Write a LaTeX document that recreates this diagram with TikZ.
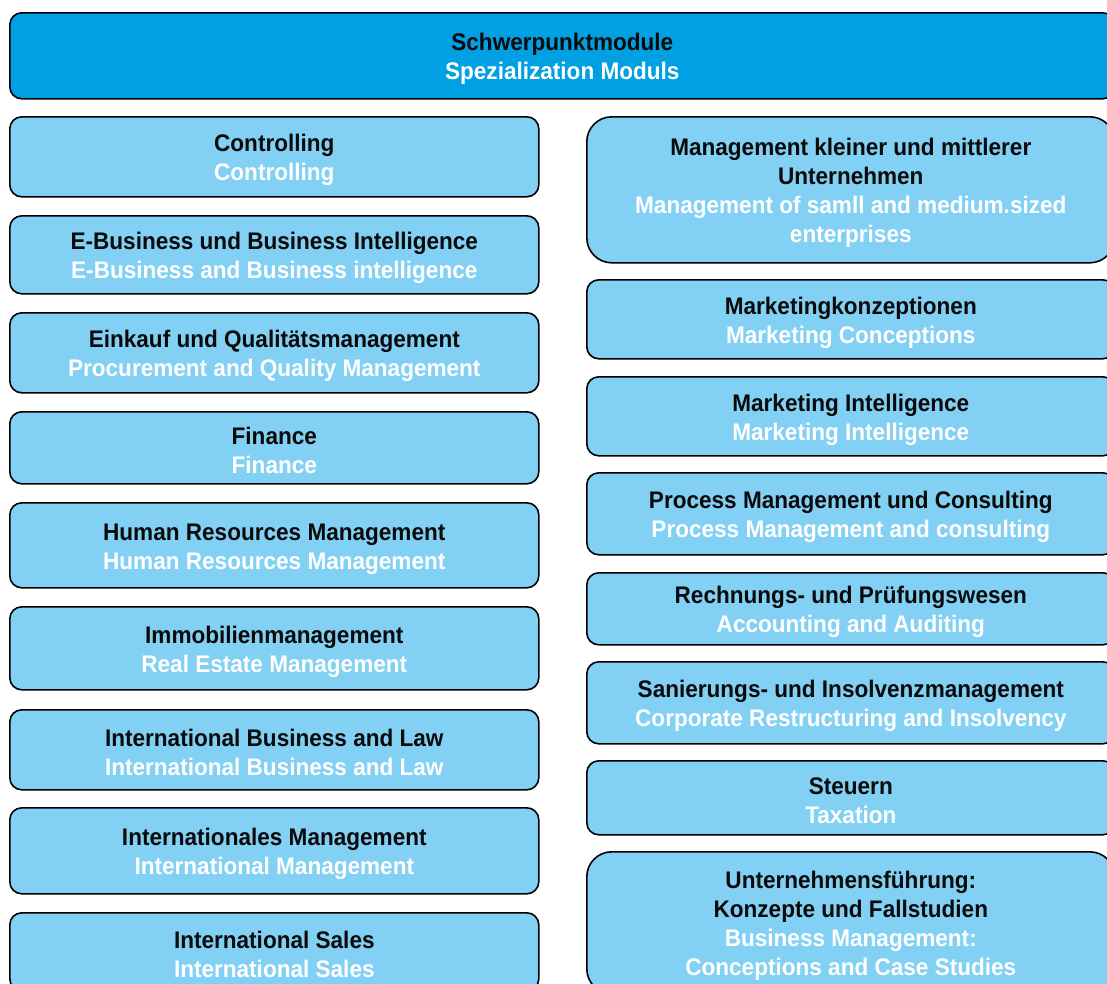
\documentclass[tikz,border=0pt]{standalone}
\usepackage{fontspec}
\setmainfont[FakeStretch=0.94]{Liberation Sans}
\usetikzlibrary{positioning}
\definecolor{topblue}{HTML}{00A0E3}
\definecolor{modblue}{HTML}{82D0F4}
\definecolor{txtblack}{HTML}{0A0A0A}
\newcommand{\en}[1]{\textcolor{white}{#1}}
\newcommand{\fs}{\rule{0pt}{23.5pt}}
\begin{document}
\begin{tikzpicture}[x=1pt,y=-1pt,
  modbox/.style={draw=black, line width=1.6pt, rounded corners=12pt, fill=modblue,
    align=center, inner sep=0pt, anchor=north west, text=txtblack,
    font=\bfseries\fontsize{24}{29}\selectfont},
  topbox/.style={modbox, fill=topblue},
  lcol/.style={modbox, minimum width=529pt},
  rcol/.style={modbox, minimum width=528pt},
  tall/.style={rounded corners=25pt}]
\path[use as bounding box, fill=white] (0,0) rectangle (1107,983);
\clip (0,0) rectangle (1107,983);
\node[topbox, minimum width=1105pt, minimum height=86pt] (top) at (9,12) {\fs Schwerpunktmodule\\\en{Spezialization Moduls}};
% left column
\node[lcol, minimum height=80pt] (l1) at (9,116) {\fs Controlling\\\en{Controlling}};
\node[lcol, minimum height=78pt] (l2) at (9,215) {\fs E-Business und Business Intelligence\\\en{E-Business and Business intelligence}};
\node[lcol, minimum height=80pt] (l3) at (9,312) {\fs Einkauf und Qualitätsmanagement\\\en{Procurement and Quality Management}};
\node[lcol, minimum height=72pt] (l4) at (9,411) {\fs Finance\\\en{Finance}};
\node[lcol, minimum height=85pt] (l5) at (9,502) {\fs Human Resources Management\\\en{Human Resources Management}};
\node[lcol, minimum height=83pt] (l6) at (9,606) {\fs Immobilienmanagement\\\en{Real Estate Management}};
\node[lcol, minimum height=80pt] (l7) at (9,709) {\fs International Business and Law\\\en{International Business and Law}};
\node[lcol, minimum height=86pt] (l8) at (9,807) {\fs Internationales Management\\\en{International Management}};
\node[lcol, minimum height=78pt] (l9) at (9,912) {\fs International Sales\\\en{International Sales}};
% right column
\node[rcol, tall, minimum height=146pt] (r1) at (586,116) {\fs Management kleiner und mittlerer\\Unternehmen\\\en{Management of samll and medium.sized}\\\en{enterprises}};
\node[rcol, minimum height=79pt] (r2) at (586,279) {\fs Marketingkonzeptionen\\\en{Marketing Conceptions}};
\node[rcol, minimum height=79pt] (r3) at (586,376) {\fs Marketing Intelligence\\\en{Marketing Intelligence}};
\node[rcol, minimum height=82pt] (r4) at (586,472) {\fs Process Management und Consulting\\\en{Process Management and consulting}};
\node[rcol, minimum height=72pt] (r5) at (586,572) {\fs Rechnungs- und Prüfungswesen\\\en{Accounting and Auditing}};
\node[rcol, minimum height=82pt] (r6) at (586,661) {\fs Sanierungs- und Insolvenzmanagement\\\en{Corporate Restructuring and Insolvency}};
\node[rcol, minimum height=74pt] (r7) at (586,760) {\fs Steuern\\\en{Taxation}};
\node[rcol, tall, minimum height=142pt] (r8) at (586,851) {\fs Unternehmensführung:\\Konzepte und Fallstudien\\\en{Business Management:}\\\en{Conceptions and Case Studies}};
\end{tikzpicture}
\end{document}
